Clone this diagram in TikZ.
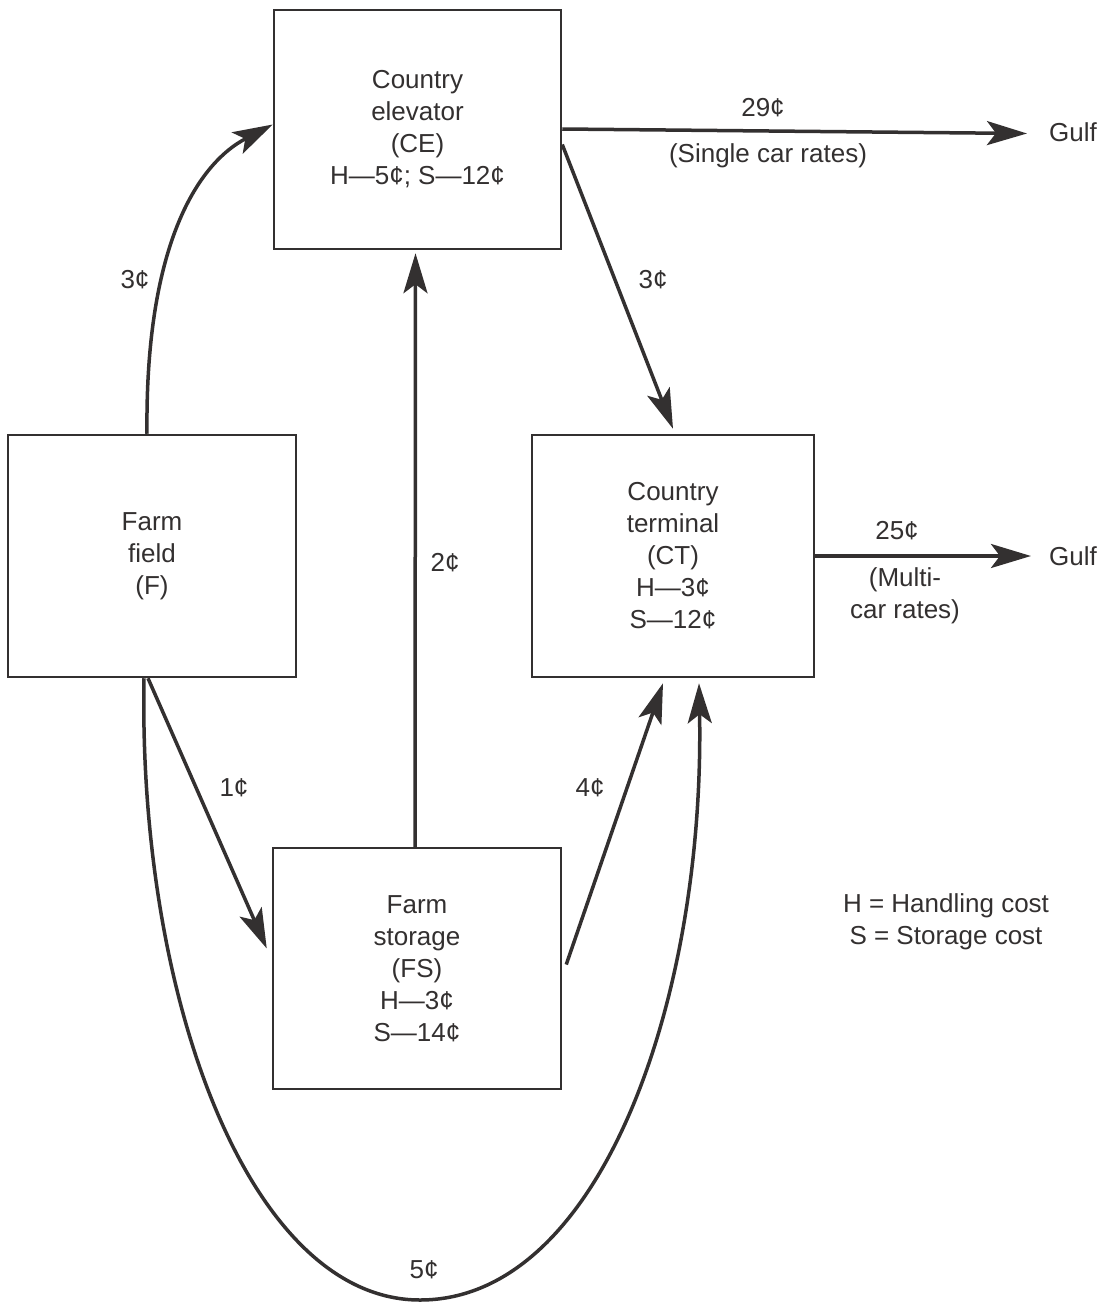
\documentclass[tikz,border=0pt]{standalone}
\usepackage{fontspec}
\setmainfont{Liberation Sans}
\usetikzlibrary{arrows.meta}
\definecolor{ink}{HTML}{333030}
\begin{document}
\begin{tikzpicture}[x=1pt,y=-1pt,
  font=\fontsize{26}{32}\selectfont, text=ink,
  box/.style={draw=ink, line width=2.5pt, fill=white, align=center, inner sep=0pt},
  conn/.style={draw=ink, line width=3.5pt, -{Stealth[length=40pt,width=24pt,inset=9pt]}},
  lbl/.style={align=center, inner sep=0pt}]
\path[fill=white] (0,0) rectangle (1113,1303);
\useasboundingbox (0,0) rectangle (1113,1303);

\node[box, minimum width=287pt, minimum height=239pt] (CE) at (417.5,129.5) {Country\\elevator\\(CE)\\H---5¢; S---12¢};
\node[box, minimum width=288pt, minimum height=242pt] (F) at (152,556) {Farm\\field\\(F)};
\node[box, minimum width=282pt, minimum height=242pt] (CT) at (673,556) {Country\\terminal\\(CT)\\H---3¢\\S---12¢};
\node[box, minimum width=288pt, minimum height=241pt] (FS) at (417,968.5) {Farm\\storage\\(FS)\\H---3¢\\S---14¢};

\node[lbl] (g1) at (1073,132) {Gulf};
\node[lbl] (g2) at (1073,556) {Gulf};

% connectors
\draw[conn] ([xshift=-5pt]F.north) .. controls (145,250) and (195,165) .. ([yshift=5pt]CE.west);
\draw[conn] ([xshift=-2pt]FS.north) -- ([xshift=-2pt,yshift=-3pt]CE.south);
\draw[conn] ([yshift=-15pt]CE.east) -- ([yshift=5pt]CT.north);
\draw[conn] ([yshift=0.5pt]CE.east) -- ([xshift=-22pt,yshift=-1.5pt]g1.west);
\draw[conn] (CT.east) -- ([xshift=-18pt]g2.west);
\draw[conn] ([xshift=-4pt]F.south) -- ([xshift=-5pt,yshift=20pt]FS.west);
\draw[conn] ([xshift=4pt,yshift=4pt]FS.east) -- ([xshift=-10pt,yshift=-5pt]CT.south);
\draw[conn] ([xshift=-8pt]F.south) .. controls (138,1000) and (250,1300) .. (420,1300)
  .. controls (600,1300) and (705,1000) .. ([xshift=26pt,yshift=-5pt]CT.south);

% labels
\node[lbl] (l1) at (135,280) {3¢};
\node[lbl] (l2) at (445,563) {2¢};
\node[lbl] (l3) at (653,280) {3¢};
\node[lbl] (l4) at (763,108) {29¢};
\node[lbl] (l5) at (768,156) {(Single car rates)};
\node[lbl] (l6) at (897,531) {25¢};
\node[lbl] (l7) at (905,596) {(Multi-\\car rates)};
\node[lbl] (l8) at (234,788) {1¢};
\node[lbl] (l9) at (590,788) {4¢};
\node[lbl] (l10) at (424,1270) {5¢};
\node[lbl] (leg) at (946,922) {H = Handling cost\\S = Storage cost};
\end{tikzpicture}
\end{document}
